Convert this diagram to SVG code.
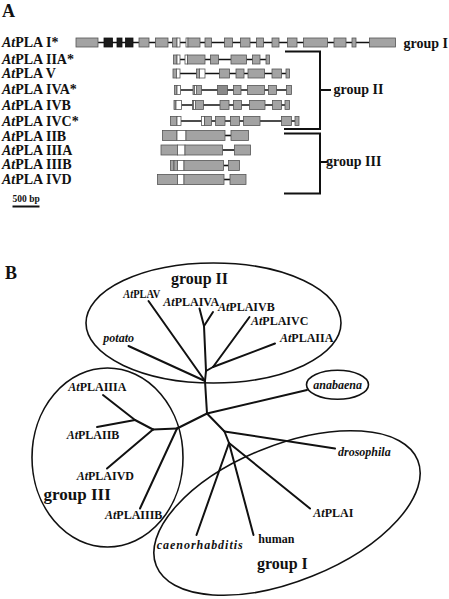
<svg xmlns="http://www.w3.org/2000/svg" width="449" height="599" viewBox="0 0 449 599">
<style>
text{font-family:"Liberation Serif","Times New Roman",serif;font-weight:bold;fill:#111}
.it{font-style:italic}
.pl{font-size:18px}
.rl{font-size:14px}
.tl{font-size:12px}
.gl{font-size:14px}
.ex{fill:#a3a3a3;stroke:#555;stroke-width:0.8}
.dk{fill:#8a8a8a;stroke:#555;stroke-width:0.8}
.bk{fill:#1b1b1b;stroke:#111;stroke-width:0.8}
.wh{fill:#fff;stroke:#555;stroke-width:0.8}
.in{stroke:#111;stroke-width:1.6;fill:none}
.br{stroke:#111;stroke-width:2;fill:none}
.tr line{stroke:#111;stroke-width:2;stroke-linecap:round}
.el{fill:none;stroke:#111;stroke-width:1.6}
</style>
<rect width="449" height="599" fill="#fff"/>

<!-- Panel A -->
<text class="pl" x="2" y="17">A</text>

<g id="row-I">
<text class="rl" x="2" y="46.5"><tspan class="it">At</tspan>PLA I*</text>
<line class="in" x1="98" y1="42.5" x2="369.5" y2="42.5"/>
<rect class="ex" x="76" y="38" width="22" height="9"/>
<rect class="bk" x="104" y="38" width="8.5" height="9"/>
<rect class="bk" x="117" y="38" width="5" height="9"/>
<rect class="bk" x="125.5" y="38" width="7.5" height="9"/>
<rect class="ex" x="139" y="38" width="10" height="9"/>
<rect class="ex" x="155.5" y="38" width="12.5" height="9"/>
<rect class="ex" x="172.5" y="38" width="4.5" height="9"/>
<rect class="wh" x="177" y="38" width="3" height="9"/>
<rect class="wh" x="186" y="38" width="2" height="9"/>
<rect class="ex" x="188" y="38" width="12" height="9"/>
<rect class="ex" x="205" y="38" width="6.5" height="9"/>
<rect class="ex" x="224.5" y="38" width="8" height="9"/>
<rect class="ex" x="240.5" y="38" width="9.5" height="9"/>
<rect class="ex" x="256.5" y="38" width="7" height="9"/>
<rect class="ex" x="272" y="38" width="7" height="9"/>
<rect class="ex" x="287.5" y="38" width="9.5" height="9"/>
<rect class="ex" x="303.5" y="38" width="24" height="9"/>
<rect class="ex" x="334" y="38" width="12" height="9"/>
<rect class="ex" x="352" y="38" width="4" height="9"/>
<rect class="ex" x="369.5" y="38" width="26" height="9"/>
</g>

<g id="row-IIA">
<text class="rl" x="2" y="63.5"><tspan class="it">At</tspan>PLA IIA*</text>
<line class="in" x1="176" y1="59.5" x2="267" y2="59.5"/>
<rect class="ex" x="173.5" y="55" width="3.5" height="9"/>
<rect class="wh" x="177" y="55" width="3" height="9"/>
<rect class="wh" x="185" y="55" width="2.5" height="9"/>
<rect class="ex" x="187.5" y="55" width="17.5" height="9"/>
<rect class="ex" x="210.5" y="55" width="8" height="9"/>
<rect class="ex" x="231" y="55" width="15.5" height="9"/>
<rect class="ex" x="252.5" y="55" width="7.5" height="9"/>
<rect class="ex" x="266" y="55" width="3.5" height="9"/>
</g>

<g id="row-V">
<text class="rl" x="2" y="78"><tspan class="it">At</tspan>PLA V</text>
<line class="in" x1="180" y1="73.5" x2="287" y2="73.5"/>
<rect class="ex" x="173" y="69" width="3.5" height="9"/>
<rect class="wh" x="176.5" y="69" width="3.5" height="9"/>
<rect class="ex" x="196.5" y="69" width="3" height="9"/>
<rect class="wh" x="199.5" y="69" width="5.5" height="9"/>
<rect class="ex" x="219.5" y="69" width="10" height="9"/>
<rect class="ex" x="236" y="69" width="8" height="9"/>
<rect class="ex" x="248" y="69" width="16.5" height="9"/>
<rect class="ex" x="272" y="69" width="9.5" height="9"/>
<rect class="ex" x="286" y="69" width="3.5" height="9"/>
</g>

<g id="row-IVA">
<text class="rl" x="2" y="94"><tspan class="it">At</tspan>PLA IVA*</text>
<line class="in" x1="180.5" y1="90" x2="287" y2="90"/>
<rect class="ex" x="174.5" y="85.5" width="2.5" height="9"/>
<rect class="wh" x="177" y="85.5" width="3.5" height="9"/>
<rect class="ex" x="193" y="85.5" width="8.5" height="9"/>
<rect class="wh" x="194.5" y="85.5" width="2" height="9"/>
<rect class="dk" x="217.5" y="85.5" width="10" height="9"/>
<rect class="ex" x="233.5" y="85.5" width="7.5" height="9"/>
<rect class="ex" x="247.5" y="85.5" width="17" height="9"/>
<rect class="ex" x="268.5" y="85.5" width="8" height="9"/>
<rect class="ex" x="286.5" y="85.5" width="5" height="9"/>
</g>

<g id="row-IVB">
<text class="rl" x="2" y="110"><tspan class="it">At</tspan>PLA IVB</text>
<line class="in" x1="181.5" y1="105" x2="286" y2="105"/>
<rect class="ex" x="174" y="100.5" width="2" height="9"/>
<rect class="wh" x="176" y="100.5" width="5.5" height="9"/>
<rect class="ex" x="192.5" y="100.5" width="11" height="9"/>
<rect class="wh" x="193.5" y="100.5" width="2" height="9"/>
<rect class="ex" x="220" y="100.5" width="9" height="9"/>
<rect class="ex" x="233.5" y="100.5" width="8" height="9"/>
<rect class="ex" x="249.5" y="100.5" width="15.5" height="9"/>
<rect class="ex" x="272.5" y="100.5" width="9" height="9"/>
<rect class="ex" x="285" y="100.5" width="4.5" height="9"/>
</g>

<g id="row-IVC">
<text class="rl" x="2" y="126"><tspan class="it">At</tspan>PLA IVC*</text>
<line class="in" x1="181" y1="121" x2="296" y2="121"/>
<rect class="ex" x="170.5" y="116.5" width="6.5" height="9"/>
<rect class="wh" x="177" y="116.5" width="4" height="9"/>
<rect class="wh" x="201.5" y="116.5" width="3" height="9"/>
<rect class="ex" x="204.5" y="116.5" width="7" height="9"/>
<rect class="ex" x="215.5" y="116.5" width="9.5" height="9"/>
<rect class="ex" x="230.5" y="116.5" width="9" height="9"/>
<rect class="ex" x="243.5" y="116.5" width="16.5" height="9"/>
<rect class="ex" x="281.5" y="116.5" width="10" height="9"/>
<rect class="ex" x="295" y="116.5" width="4" height="9"/>
</g>

<g id="row-IIB">
<text class="rl" x="2" y="140.5"><tspan class="it">At</tspan>PLA IIB</text>
<line class="in" x1="225" y1="135.5" x2="231" y2="135.5"/>
<rect class="ex" x="162.5" y="130.5" width="14.5" height="10"/>
<rect class="wh" x="177" y="130.5" width="9" height="10"/>
<rect class="ex" x="186" y="130.5" width="39" height="10"/>
<rect class="ex" x="231" y="130.5" width="17.5" height="10"/>
</g>

<g id="row-IIIA">
<text class="rl" x="2" y="155"><tspan class="it">At</tspan>PLA IIIA</text>
<line class="in" x1="222.5" y1="150" x2="234.5" y2="150"/>
<rect class="ex" x="161" y="145" width="16.5" height="10"/>
<rect class="wh" x="177.5" y="145" width="7.5" height="10"/>
<rect class="ex" x="185" y="145" width="37.5" height="10"/>
<rect class="ex" x="234.5" y="145" width="16" height="10"/>
</g>

<g id="row-IIIB">
<text class="rl" x="2" y="169"><tspan class="it">At</tspan>PLA IIIB</text>
<line class="in" x1="223.5" y1="165.5" x2="228.5" y2="165.5"/>
<rect class="ex" x="170.5" y="160.5" width="3.5" height="10"/>
<rect class="ex" x="174" y="160.5" width="3.5" height="10"/>
<rect class="wh" x="177.5" y="160.5" width="6.5" height="10"/>
<rect class="ex" x="184" y="160.5" width="39.5" height="10"/>
<rect class="ex" x="228.5" y="160.5" width="11" height="10"/>
</g>

<g id="row-IVD">
<text class="rl" x="2" y="183.5"><tspan class="it">At</tspan>PLA IVD</text>
<line class="in" x1="224" y1="179.5" x2="230" y2="179.5"/>
<rect class="ex" x="157.5" y="174.5" width="20" height="10"/>
<rect class="wh" x="177.5" y="174.5" width="6.5" height="10"/>
<rect class="ex" x="184" y="174.5" width="40" height="10"/>
<rect class="ex" x="230" y="174.5" width="16" height="10"/>
</g>

<g id="label-groupI-A">
<text class="gl" x="403.5" y="48">group I</text>
</g>
<g id="bracket-groupII-A">
<path class="br" d="M285,51.5 H320 V129 H284 M320,90 H331"/>
<text class="gl" x="333.5" y="94">group II</text>
</g>
<g id="bracket-groupIII-A">
<path class="br" d="M284,133.5 H320 V193.5 H284 M320,162 H327"/>
<text class="gl" x="326" y="166">group III</text>
</g>

<g id="scalebar">
<text x="12.5" y="202" style="font-size:9.5px">500 bp</text>
<line class="br" x1="12.5" y1="206.5" x2="39.5" y2="206.5"/>
</g>

<!-- Panel B -->
<text class="pl" x="5" y="279">B</text>

<g id="ellipses">
<ellipse id="ell-groupII" class="el" cx="213.5" cy="323" rx="127.5" ry="60"/>
<ellipse id="ell-groupIII" class="el" cx="107.5" cy="457.5" rx="75.5" ry="89.5"/>
<ellipse id="ell-anabaena" class="el" cx="337.5" cy="384.7" rx="31" ry="14.5"/>
<ellipse id="ell-groupI" class="el" cx="287" cy="513" rx="141" ry="68" transform="rotate(-22 287 513)"/>
</g>

<g id="connectors" class="tr">
<line x1="199.5" y1="308.5" x2="204" y2="326"/>
<line x1="213" y1="312" x2="204" y2="326"/>
<line x1="204" y1="326" x2="206" y2="371"/>
<line x1="249.5" y1="317" x2="213" y2="367"/>
<line x1="275" y1="343.5" x2="213" y2="367"/>
<line x1="213" y1="367" x2="206" y2="371"/>
<line x1="148.5" y1="301" x2="205" y2="381"/>
<line x1="128.5" y1="346" x2="205" y2="381"/>
<line x1="206" y1="371" x2="205" y2="381"/>
<line x1="205" y1="381" x2="207" y2="413.5"/>
<line x1="207" y1="413.5" x2="307" y2="390"/>
<line x1="207" y1="413.5" x2="177" y2="428.5"/>
<line x1="207" y1="413.5" x2="224.5" y2="431.5"/>
<line x1="224.5" y1="431.5" x2="335" y2="448.5"/>
<line x1="224.5" y1="431.5" x2="229" y2="443"/>
<line x1="229" y1="443" x2="310" y2="508.5"/>
<line x1="229" y1="443" x2="253.5" y2="535"/>
<line x1="229" y1="443" x2="196.5" y2="535"/>
<line x1="177" y1="428.5" x2="140" y2="508.5"/>
<line x1="177" y1="428.5" x2="153" y2="429.5"/>
<line x1="153" y1="429.5" x2="107" y2="468.5"/>
<line x1="153" y1="429.5" x2="135" y2="420"/>
<line x1="135" y1="420" x2="97" y2="427"/>
<line x1="135" y1="420" x2="103" y2="395"/>
</g>

<g id="n-groupII"><text x="171" y="284" style="font-size:16px">group II</text></g>
<g id="n-AtPLAV"><text class="tl" x="123.3" y="298" textLength="37" lengthAdjust="spacingAndGlyphs"><tspan class="it">At</tspan>PLAV</text></g>
<g id="n-AtPLAIVA"><text class="tl" x="163.3" y="306"><tspan class="it">At</tspan>PLAIVA</text></g>
<g id="n-AtPLAIVB"><text class="tl" x="218" y="310.5"><tspan class="it">At</tspan>PLAIVB</text></g>
<g id="n-AtPLAIVC"><text class="tl" x="251" y="324.5"><tspan class="it">At</tspan>PLAIVC</text></g>
<g id="n-AtPLAIIA"><text class="tl" x="280" y="342"><tspan class="it">At</tspan>PLAIIA</text></g>
<g id="n-potato"><text class="tl it" x="103.3" y="342">potato</text></g>
<g id="n-anabaena"><text class="tl it" x="313.3" y="388.5">anabaena</text></g>

<g id="n-AtPLAIIIA"><text class="tl" x="68.3" y="391"><tspan class="it">At</tspan>PLAIIIA</text></g>
<g id="n-AtPLAIIB"><text class="tl" x="66.7" y="438.5"><tspan class="it">At</tspan>PLAIIB</text></g>
<g id="n-AtPLAIVD"><text class="tl" x="76.7" y="480"><tspan class="it">At</tspan>PLAIVD</text></g>
<g id="n-groupIII"><text x="43.5" y="499.5" style="font-size:17px">group III</text></g>
<g id="n-AtPLAIIIB"><text class="tl" x="105" y="519"><tspan class="it">At</tspan>PLAIIIB</text></g>

<g id="n-drosophila"><text class="tl it" x="338" y="456">drosophila</text></g>
<g id="n-AtPLAI"><text class="tl" x="313.3" y="516.5"><tspan class="it">At</tspan>PLAI</text></g>
<g id="n-human"><text class="tl" x="258.3" y="542.5">human</text></g>
<g id="n-caenorhabditis"><text class="tl it" x="156.7" y="549" textLength="86" lengthAdjust="spacing">caenorhabditis</text></g>
<g id="n-groupI"><text x="257" y="569" style="font-size:16px">group I</text></g>
</svg>
